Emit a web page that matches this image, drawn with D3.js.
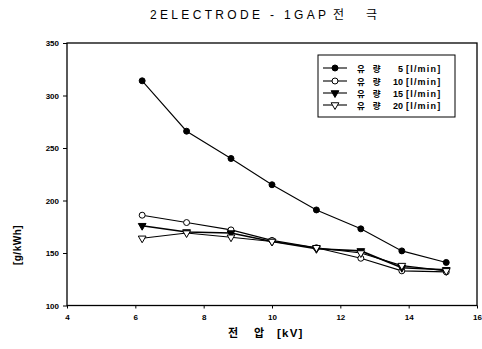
<!DOCTYPE html>
<html>
<head>
<meta charset="utf-8">
<script src="https://cdn.jsdelivr.net/npm/d3@7"></script>
<style>
  body { margin: 0; background: #fff; }
  svg { display: block; }
  text { font-family: "Liberation Sans", Arial, sans-serif; fill: #000; }
  .kr { font-family: "Noto Sans CJK KR", sans-serif; }
</style>
</head>
<body>
<div id="chart"></div>
<script>
// voltage [kV]
const voltage = [6.2, 7.5, 8.8, 10.0, 11.3, 12.6, 13.8, 15.1];
// ozone yield per flow rate
const flow5  = [314, 266, 240, 215, 191, 173, 152, 141];
const flow10 = [186, 179, 172, 162, 155, 145, 133, 132];
const flow15 = [176, 170, 169, 161, 154, 152, 136, 134];
const flow20 = [164, 169, 165, 161, 155, 150, 138, 133];
const seriesNames = ['5', '10', '15', '20'];
const xTicks = [4, 6, 8, 10, 12, 14, 16];
const yTicks = [100, 150, 200, 250, 300, 350];

const width = 482, height = 349;
const svg = d3.select('#chart').append('svg')
  .attr('width', width).attr('height', height);

const x = d3.scaleLinear().domain([4, 16]).range([67, 477]);
const y = d3.scaleLinear().domain([100, 350]).range([305.5, 43]);

// title
svg.append('text')
  .attr('x', 150).attr('y', 18.5)
  .attr('textLength', 176).attr('lengthAdjust', 'spacing')
  .style('font-size', '12px')
  .text('2ELECTRODE - 1GAP');
svg.append('text').attr('class', 'kr')
  .attr('x', 333).attr('y', 19)
  .style('font-size', '12px')
  .text('전');
svg.append('text').attr('class', 'kr')
  .attr('x', 366).attr('y', 19)
  .style('font-size', '12px')
  .text('극');

// frame
svg.append('rect')
  .attr('x', x(4)).attr('y', y(350))
  .attr('width', x(16) - x(4)).attr('height', y(100) - y(350))
  .attr('fill', 'none').attr('stroke', '#000').attr('stroke-width', 1.3);

const xAxis = svg.append('g')
  .attr('transform', `translate(0,${y(100)})`)
  .call(d3.axisBottom(x).tickValues(xTicks).tickSize(3).tickPadding(6).tickFormat(d3.format('d')));
const yAxis = svg.append('g')
  .attr('transform', `translate(${x(4)},0)`)
  .call(d3.axisLeft(y).tickValues(yTicks).tickSize(4).tickPadding(4).tickFormat(d3.format('d')));
[xAxis, yAxis].forEach(g => {
  g.select('.domain').remove();
  g.selectAll('line').attr('stroke', '#000');
  g.selectAll('text').style('font-size', '8px').style('font-weight', 'bold')
    .style('font-family', '"Liberation Sans", Arial, sans-serif');
});

// axis labels
svg.append('text').attr('class', 'kr')
  .attr('x', 228).attr('y', 337)
  .style('font-size', '11px').style('font-weight', 'bold')
  .text('전');
svg.append('text').attr('class', 'kr')
  .attr('x', 254).attr('y', 337)
  .style('font-size', '11px').style('font-weight', 'bold')
  .text('압');
svg.append('text')
  .attr('x', 277).attr('y', 337)
  .style('font-size', '11.5px').style('font-weight', 'bold')
  .style('letter-spacing', '1.2px')
  .text('[kV]');

svg.append('text')
  .attr('transform', 'translate(21,245) rotate(-90)')
  .attr('text-anchor', 'middle')
  .style('font-size', '10px').style('font-weight', 'bold')
  .style('letter-spacing', '0.5px')
  .text('[g/kWh]');

// series
const series = [flow5, flow10, flow15, flow20];
const markers = [
  { shape: d3.symbolCircle, size: 28, fill: '#000' },
  { shape: d3.symbolCircle, size: 28, fill: '#fff' },
  { shape: d3.symbolTriangle, size: 26, fill: '#000' },
  { shape: d3.symbolTriangle, size: 26, fill: '#fff' }
];
const line = d3.line().x(d => x(d[0])).y(d => y(d[1]));

series.forEach((vals, i) => {
  const pts = voltage.map((v, j) => [v, vals[j]]);
  svg.append('path').datum(pts)
    .attr('d', line)
    .attr('fill', 'none').attr('stroke', '#000')
    .attr('stroke-width', i === 2 ? 1.6 : 1.1);
  const m = markers[i];
  svg.selectAll(null).data(pts).enter().append('path')
    .attr('d', d3.symbol().type(m.shape).size(m.size))
    .attr('transform', d => `translate(${x(d[0])},${y(d[1])})${m.shape === d3.symbolTriangle ? ' rotate(180)' : ''}`)
    .attr('fill', m.fill).attr('stroke', '#000').attr('stroke-width', 1);
});

// legend
const lg = svg.append('g');
lg.append('rect')
  .attr('x', 318).attr('y', 55).attr('width', 137).attr('height', 62)
  .attr('fill', '#fff').attr('stroke', '#000').attr('stroke-width', 1);
const rowY = [68, 81, 93, 105];
seriesNames.forEach((name, i) => {
  const yy = rowY[i];
  lg.append('line')
    .attr('x1', 323).attr('x2', 347).attr('y1', yy).attr('y2', yy)
    .attr('stroke', '#000').attr('stroke-width', 1.1);
  const m = markers[i];
  lg.append('path')
    .attr('d', d3.symbol().type(m.shape).size(m.size))
    .attr('transform', `translate(335,${yy})${m.shape === d3.symbolTriangle ? ' rotate(180)' : ''}`)
    .attr('fill', m.fill).attr('stroke', '#000').attr('stroke-width', 1);
  lg.append('text')
    .attr('x', 357).attr('y', yy + 3.5)
    .attr('class', 'kr')
    .style('font-size', '8.5px').style('font-weight', 'bold')
    .html('유<tspan dx="8">량</tspan>');
  lg.append('text')
    .attr('x', 403).attr('y', yy + 3.5)
    .attr('text-anchor', 'end')
    .style('font-size', '9px').style('font-weight', 'bold')
    .text(name);
  lg.append('text')
    .attr('x', 406).attr('y', yy + 3.5)
    .style('font-size', '9px').style('font-weight', 'bold')
    .style('letter-spacing', '1.2px')
    .text('[l/min]');
});
</script>
</body>
</html>
